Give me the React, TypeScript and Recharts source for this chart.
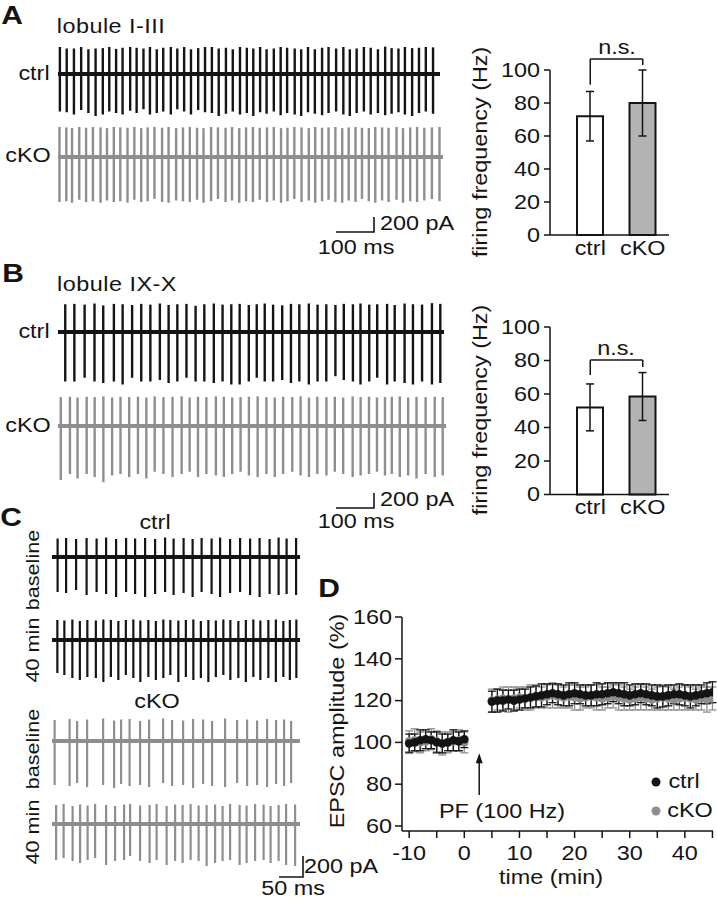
import React from 'react';
import { ComposedChart, BarChart, Bar, ScatterChart, Scatter, XAxis, YAxis, ReferenceLine, ReferenceDot, ErrorBar, Cell } from 'recharts';

const FONT = '"Liberation Sans", Arial, Helvetica, sans-serif';
const INK = '#141414';
const GREY = '#8e8e8e';
const SX = 1.2; // the figure's lettering is set wide
const FS = 19.5;

// ---- A: lobule I-III (spike times in ms, peaks in pA) ----
const aCtrlT = [5, 23, 42, 61, 80, 99, 118, 135, 153, 170, 190, 207, 225, 242, 260, 277, 297, 314, 332, 350, 369, 387, 405, 423, 442, 460, 479, 497, 514, 532, 549, 568, 586, 603, 623, 640, 658, 676, 695, 712, 732, 751, 768, 786, 805, 823, 842, 861, 878, 896, 913, 932, 950, 968, 987];
const aCtrlTop = [360, 340, 340, 360, 330, 340, 345, 360, 335, 350, 360, 350, 340, 360, 330, 350, 360, 340, 360, 330, 345, 360, 360, 340, 350, 330, 360, 350, 340, 360, 330, 340, 360, 350, 340, 330, 360, 330, 350, 360, 340, 360, 330, 340, 360, 350, 330, 365, 345, 340, 360, 345, 350, 360, 355];
const aCtrlBot = [-500, -510, -540, -480, -520, -560, -540, -500, -520, -540, -490, -520, -470, -540, -520, -500, -540, -470, -500, -540, -480, -510, -520, -560, -530, -500, -540, -520, -560, -510, -530, -500, -550, -520, -540, -560, -510, -530, -550, -520, -500, -540, -560, -520, -500, -540, -520, -550, -530, -510, -540, -560, -520, -500, -530];
const aCkoT = [3, 21, 36, 55, 73, 91, 111, 128, 146, 163, 182, 200, 218, 235, 253, 273, 290, 310, 328, 346, 365, 382, 402, 420, 440, 457, 476, 494, 512, 530, 549, 567, 586, 603, 621, 640, 659, 676, 694, 711, 729, 747, 764, 782, 799, 817, 834, 852, 869, 890, 907, 926, 944, 963, 983, 1003];
const aCkoTop = [400, 395, 385, 400, 390, 400, 395, 385, 400, 395, 390, 400, 385, 395, 400, 390, 400, 385, 395, 400, 390, 385, 400, 395, 390, 400, 385, 395, 400, 390, 395, 400, 385, 390, 400, 395, 385, 400, 390, 395, 400, 385, 395, 400, 390, 385, 400, 395, 390, 400, 385, 395, 400, 390, 395, 400];
const aCkoBot = [-600, -590, -610, -570, -600, -590, -610, -580, -600, -590, -610, -570, -600, -590, -560, -600, -610, -580, -590, -600, -570, -610, -590, -560, -600, -580, -610, -590, -600, -570, -600, -580, -610, -590, -560, -600, -580, -610, -590, -570, -600, -610, -580, -600, -560, -590, -610, -580, -600, -570, -610, -590, -600, -580, -560, -590];

// ---- B: lobule IX-X ----
const bCtrlT = [18, 42, 69, 95, 118, 146, 169, 194, 218, 242, 267, 290, 313, 337, 361, 384, 409, 432, 455, 477, 501, 522, 543, 565, 589, 612, 634, 659, 682, 705, 729, 751, 775, 795, 818, 839, 865, 885, 911, 933, 957, 983, 1005];
const bCtrlTop = [370, 375, 365, 380, 355, 375, 370, 360, 375, 365, 380, 360, 370, 375, 350, 370, 380, 365, 370, 375, 360, 370, 380, 365, 355, 375, 370, 380, 365, 370, 360, 375, 370, 380, 365, 370, 375, 360, 380, 370, 365, 385, 375];
const bCtrlBot = [-660, -660, -610, -660, -680, -660, -700, -610, -660, -660, -640, -680, -660, -610, -660, -660, -680, -660, -700, -700, -660, -610, -660, -660, -640, -680, -660, -700, -660, -660, -590, -640, -660, -700, -660, -610, -700, -660, -680, -700, -660, -700, -680];
const bCkoT = [8, 32, 52, 76, 97, 120, 143, 165, 188, 211, 233, 255, 278, 302, 326, 347, 369, 391, 416, 437, 459, 481, 503, 526, 549, 571, 593, 617, 639, 661, 683, 707, 729, 751, 776, 797, 819, 840, 861, 879, 900, 922, 944, 968, 992, 1013];
const bCkoTop = [385, 390, 380, 390, 385, 395, 380, 390, 385, 390, 380, 395, 385, 390, 395, 380, 390, 385, 395, 390, 380, 385, 390, 395, 385, 380, 390, 385, 395, 380, 390, 385, 390, 380, 395, 385, 390, 380, 385, 390, 395, 380, 390, 385, 390, 385];
const bCkoBot = [-720, -640, -700, -640, -680, -750, -660, -640, -680, -640, -700, -610, -640, -680, -640, -610, -680, -640, -660, -680, -640, -610, -660, -680, -640, -680, -640, -610, -660, -680, -640, -660, -610, -640, -680, -660, -640, -610, -660, -640, -680, -660, -700, -640, -680, -660];

// ---- C: baseline vs 40 min ----
const c1T = [11, 28, 48, 69, 89, 108, 128, 148, 166, 186, 206, 226, 243, 263, 281, 299, 319, 336, 356, 376, 396, 415, 435, 453, 469, 488];
const c1Top = [185, 190, 180, 190, 185, 195, 180, 190, 185, 190, 180, 195, 185, 190, 180, 190, 185, 195, 180, 190, 185, 190, 180, 195, 185, 190];
const c1Bot = [-350, -360, -330, -380, -350, -370, -400, -350, -370, -400, -370, -350, -380, -360, -400, -350, -370, -400, -360, -350, -380, -400, -370, -380, -370, -380];
const c2T = [11, 25, 41, 56, 71, 88, 103, 118, 133, 148, 163, 177, 193, 208, 223, 237, 253, 268, 283, 298, 313, 328, 343, 357, 373, 388, 403, 417, 433, 448, 463, 476, 489];
const c2Top = [200, 195, 205, 190, 200, 195, 205, 200, 190, 200, 205, 195, 200, 190, 205, 200, 195, 200, 205, 190, 200, 195, 205, 200, 190, 200, 205, 195, 200, 205, 190, 200, 205];
const c2Bot = [-330, -350, -380, -400, -370, -380, -420, -370, -400, -350, -380, -420, -370, -400, -380, -350, -420, -370, -400, -380, -420, -370, -350, -400, -380, -420, -370, -400, -380, -420, -370, -400, -380];
const c3T = [6, 36, 51, 71, 103, 125, 139, 156, 177, 195, 223, 241, 263, 283, 303, 321, 347, 371, 391, 411, 431, 449, 465, 479];
const c3Top = [210, 220, 200, 215, 225, 205, 215, 220, 200, 215, 225, 210, 205, 220, 215, 200, 225, 210, 215, 205, 220, 210, 215, 200];
const c3Bot = [-440, -450, -420, -460, -440, -470, -430, -450, -440, -460, -420, -450, -440, -470, -430, -450, -460, -420, -450, -440, -460, -430, -450, -420];
const c4T = [8, 23, 41, 56, 71, 86, 108, 126, 144, 156, 176, 195, 209, 229, 246, 261, 277, 293, 309, 326, 341, 356, 375, 389, 406, 423, 437, 453, 468, 486];
const c4Top = [190, 200, 180, 195, 185, 200, 190, 180, 195, 200, 185, 190, 200, 180, 195, 190, 200, 185, 190, 195, 180, 200, 190, 185, 200, 195, 180, 190, 200, 195];
const c4Bot = [-360, -340, -370, -390, -360, -340, -410, -370, -360, -320, -370, -390, -360, -410, -370, -390, -360, -370, -420, -390, -370, -360, -410, -390, -370, -360, -390, -370, -410, -420];

// ---- firing frequency bars ----
const groups = ['ctrl', 'cKO'];
const freqA = [72, 80];
const semA = [15, 20];
const freqB = [52, 58.5];
const semB = [14, 14.3];
const freqTicks = [0, 20, 40, 60, 80, 100];

// ---- D: EPSC amplitude (%) vs time (min) ----
const dTime = [-10, -9, -8, -7, -6, -5, -4, -3, -2, -1, 0, 5, 6, 7, 8, 9, 10, 11, 12, 13, 14, 15, 16, 17, 18, 19, 20, 21, 22, 23, 24, 25, 26, 27, 28, 29, 30, 31, 32, 33, 34, 35, 36, 37, 38, 39, 40, 41, 42, 43, 44, 45];
const ctrlMean = [99.5, 100, 101, 101.5, 101, 100, 99.5, 100, 101, 100.5, 101.5, 119.5, 120, 120, 120.5, 120, 120.5, 121, 121.5, 122, 122.5, 123, 123.5, 123, 122.5, 123, 123.5, 123, 122.5, 122.5, 123, 123, 123.5, 124, 123.5, 123, 122.5, 123, 123.5, 123, 122.5, 122, 122, 122.5, 123, 123, 122.5, 122, 122.5, 123, 123.5, 124];
const ctrlSem = [4.5, 4, 5, 4.5, 4, 5, 4.5, 4, 5, 4.5, 4, 5, 5.5, 5, 4.5, 5, 5, 4.5, 5, 5, 5.5, 5, 4.5, 5, 5, 5.5, 5, 4.5, 5, 5, 5.5, 5, 5, 4.5, 5, 5.5, 5, 5, 4.5, 5, 5, 5.5, 5, 5, 4.5, 5, 5, 5.5, 5, 4.5, 5, 5];
const ckoMean = [100.5, 101, 100, 100.5, 101.5, 100.5, 99.5, 100, 100.5, 101, 100, 120, 120.5, 121, 120.5, 121, 121.5, 121, 121.5, 122, 121.5, 122, 122.5, 122, 121.5, 122, 121.5, 121, 121.5, 122, 121.5, 121, 121.5, 122, 121.5, 121, 120.5, 121, 121.5, 121, 120.5, 121, 121.5, 121, 120.5, 121, 121.5, 121, 120.5, 121, 120.5, 121];
const ckoSem = [5, 5.5, 5, 4.5, 5, 5, 5.5, 5, 4.5, 5, 5, 5.5, 5, 5.5, 6, 5.5, 5, 5.5, 6, 5.5, 5, 5.5, 6, 5.5, 5, 5.5, 6, 5.5, 5, 5.5, 6, 5.5, 5, 5.5, 6, 5.5, 5, 5.5, 6, 5.5, 5, 5.5, 6, 5.5, 5, 5.5, 6, 5.5, 5, 5.5, 6, 5.5];
const timeTicks = [-10, -5, 0, 5, 10, 15, 20, 25, 30, 35, 40, 45];
const ampTicks = [60, 80, 100, 120, 140, 160];

const T = ({ x, y, s = FS, bold = false, rot = false, ls = 0, children }: any) => (
  <div
    style={{
      position: 'absolute', left: x, top: y, fontFamily: FONT, fontSize: s, fontWeight: bold ? 700 : 400,
      lineHeight: 1, whiteSpace: 'nowrap', color: INK, letterSpacing: ls,
      transform: `translate(-50%, -50%)${rot ? ' rotate(-90deg)' : ''} scaleX(${SX})`,
    }}
  >
    {children}
  </div>
);

const svgText = (x: number, y: number, anchor: string, value: any) => (
  <text transform={`translate(${x},${y}) scale(${SX},1)`} textAnchor={anchor} dy="0.35em" fontSize={FS} fontFamily={FONT} fill={INK}>
    {value}
  </text>
);

// one current-clamp trace: spikes as range bars around a thick baseline
function Trace({ times, tops, bottoms, x0, x1, base, color, pxMs, pxPA, spikeW = 2.4 }: any) {
  const up = 40;
  const down = 62;
  const w = x1 - x0;
  const data = times.map((t: number, i: number) => ({ t, r: [bottoms[i], tops[i]] }));
  return (
    <div style={{ position: 'absolute', left: x0, top: base - up }}>
      <ComposedChart width={w} height={up + down} data={data} margin={{ top: 0, right: 0, bottom: 0, left: 0 }}>
        <XAxis type="number" dataKey="t" domain={[0, w / pxMs]} hide />
        <YAxis type="number" domain={[-down / pxPA, up / pxPA]} hide />
        <ReferenceLine y={0} stroke={color} strokeWidth={4} />
        <Bar dataKey="r" fill={color} barSize={spikeW} isAnimationActive={false} />
      </ComposedChart>
    </div>
  );
}

function FreqChart({ top, vals, errs, plotTop, plotH, br }: any) {
  const data = groups.map((g, i) => ({ g, v: vals[i], e: errs[i] }));
  const fills = ['#ffffff', '#b3b3b3'];
  const seg = (a: any, b: any, k: string) => (
    <ReferenceLine key={k} segment={[a, b]} stroke={INK} strokeWidth={1.5} ifOverflow="visible" />
  );
  return (
    <div style={{ position: 'absolute', left: 440, top }}>
      <BarChart width={277} height={260} data={data} margin={{ top: plotTop, right: 48, bottom: 0, left: 0 }}>
        <XAxis
          dataKey="g"
          interval={0}
          tickLine={false}
          axisLine={{ stroke: INK, strokeWidth: 1.5 }}
          padding={{ left: 14, right: 0 }}
          height={260 - plotTop - plotH}
          tick={(p: any) => svgText(p.x, p.y + 5, 'middle', p.payload.value)}
        />
        <YAxis
          domain={[0, 100]}
          ticks={freqTicks}
          width={110}
          tickSize={6}
          axisLine={{ stroke: INK, strokeWidth: 1.5 }}
          tickLine={{ stroke: INK, strokeWidth: 1.5 }}
          tick={(p: any) => svgText(p.x - 2, p.y, 'end', p.payload.value)}
        />
        <Bar dataKey="v" barSize={26} stroke={INK} strokeWidth={2} isAnimationActive={false}>
          {data.map((d, i) => (
            <Cell key={d.g} fill={fills[i]} />
          ))}
          <ErrorBar dataKey="e" width={4} stroke={INK} strokeWidth={1.5} direction="y" />
        </Bar>
        {seg({ x: 'ctrl', y: br[1] }, { x: 'ctrl', y: br[0] }, 'l')}
        {seg({ x: 'ctrl', y: br[0] }, { x: 'cKO', y: br[0] }, 'h')}
        {seg({ x: 'cKO', y: br[2] }, { x: 'cKO', y: br[0] }, 'r')}
      </BarChart>
    </div>
  );
}

const dot = (fill: string) => (p: any) => <circle cx={p.cx} cy={p.cy} r={4.3} fill={fill} />;
const arrowHead = (p: any) => (
  <path d={`M${p.cx},${p.cy} L${p.cx - 3.5},${p.cy + 10} L${p.cx + 3.5},${p.cy + 10} Z`} fill={INK} />
);

function EpscChart() {
  const ctrl = dTime.map((t, i) => ({ t, v: ctrlMean[i], e: ctrlSem[i] }));
  const cko = dTime.map((t, i) => ({ t, v: ckoMean[i], e: ckoSem[i] }));
  return (
    <div style={{ position: 'absolute', left: 330, top: 590 }}>
      <ScatterChart width={387} height={309} margin={{ top: 27, right: 4, bottom: 0, left: 0 }}>
        <XAxis
          type="number"
          dataKey="t"
          domain={[-11.3, 45.1]}
          ticks={timeTicks}
          allowDataOverflow
          tickSize={7}
          height={68}
          axisLine={{ stroke: INK, strokeWidth: 1.5 }}
          tickLine={{ stroke: INK, strokeWidth: 1.5 }}
          tick={(p: any) => (p.payload.value % 10 === 0 ? svgText(p.x, p.y + 13, 'middle', p.payload.value) : <g />)}
        />
        <YAxis
          type="number"
          dataKey="v"
          domain={[57.6, 160]}
          ticks={ampTicks}
          allowDataOverflow
          width={72}
          tickSize={7}
          axisLine={{ stroke: INK, strokeWidth: 1.5 }}
          tickLine={{ stroke: INK, strokeWidth: 1.5 }}
          tick={(p: any) => svgText(p.x - 1, p.y, 'end', p.payload.value)}
        />
        <Scatter data={cko} fill={GREY} shape={dot(GREY)} isAnimationActive={false}>
          <ErrorBar dataKey="e" direction="y" width={4} stroke={GREY} strokeWidth={1.3} />
        </Scatter>
        <Scatter data={ctrl} fill={INK} shape={dot(INK)} isAnimationActive={false}>
          <ErrorBar dataKey="e" direction="y" width={4} stroke={INK} strokeWidth={1.3} />
        </Scatter>
        <ReferenceLine segment={[{ x: 2.7, y: 74.8 }, { x: 2.7, y: 91 }]} stroke={INK} strokeWidth={1.5} />
        <ReferenceDot x={2.7} y={94.8} r={0} shape={arrowHead} ifOverflow="visible" />
      </ScatterChart>
    </div>
  );
}

export default function App() {
  return (
    <div style={{ position: 'absolute', left: 0, top: 0, width: 717, height: 899, background: '#fff', overflow: 'hidden' }}>
      {/* A */}
      <Trace times={aCtrlT} tops={aCtrlTop} bottoms={aCtrlBot} x0={58} x1={440} base={74} color={INK} pxMs={0.38} pxPA={0.075} />
      <Trace times={aCkoT} tops={aCkoTop} bottoms={aCkoBot} x0={58} x1={443} base={157} color={GREY} pxMs={0.38} pxPA={0.075} />
      {/* B */}
      <Trace times={bCtrlT} tops={bCtrlTop} bottoms={bCtrlBot} x0={58} x1={444} base={332} color={INK} pxMs={0.38} pxPA={0.075} />
      <Trace times={bCkoT} tops={bCkoTop} bottoms={bCkoBot} x0={58} x1={446} base={426} color={GREY} pxMs={0.38} pxPA={0.075} />
      {/* C */}
      <Trace times={c1T} tops={c1Top} bottoms={c1Bot} x0={52} x1={300} base={557} color={INK} pxMs={0.5} pxPA={0.1} spikeW={2.2} />
      <Trace times={c2T} tops={c2Top} bottoms={c2Bot} x0={52} x1={300} base={640} color={INK} pxMs={0.5} pxPA={0.1} spikeW={2.2} />
      <Trace times={c3T} tops={c3Top} bottoms={c3Bot} x0={52} x1={300} base={741} color={GREY} pxMs={0.5} pxPA={0.1} spikeW={2.2} />
      <Trace times={c4T} tops={c4Top} bottoms={c4Bot} x0={52} x1={300} base={824} color={GREY} pxMs={0.5} pxPA={0.1} spikeW={2.2} />

      <FreqChart top={0} vals={freqA} errs={semA} plotTop={70} plotH={165} br={[106.7, 91, 103]} />
      <FreqChart top={260} vals={freqB} errs={semB} plotTop={67} plotH={167.5} br={[80.3, 71.3, 76.1]} />
      <EpscChart />

      <svg width={717} height={899} style={{ position: 'absolute', left: 0, top: 0, pointerEvents: 'none' }}>
        <polyline points="336,232 374,232 374,217" fill="none" stroke={INK} strokeWidth={1.6} />
        <polyline points="336,508 374,508 374,493" fill="none" stroke={INK} strokeWidth={1.6} />
        <polyline points="279,877 303,877 303,856" fill="none" stroke={INK} strokeWidth={1.6} />
        <circle cx={656} cy={782} r={4.5} fill={INK} />
        <circle cx={656} cy={811} r={4.5} fill={GREY} />
      </svg>

      <T x={12} y={15} s={25} bold>A</T>
      <T x={111} y={27} ls={0.4}>lobule I-III</T>
      <T x={34} y={74}>ctrl</T>
      <T x={28} y={156}>cKO</T>
      <T x={417} y={224}>200 pA</T>
      <T x={356} y={248}>100 ms</T>
      <T x={481} y={152} rot>firing frequency (Hz)</T>
      <T x={617} y={48}>n.s.</T>

      <T x={13} y={273} s={25} bold>B</T>
      <T x={117} y={285} ls={0.4}>lobule IX-X</T>
      <T x={34} y={332}>ctrl</T>
      <T x={28} y={426}>cKO</T>
      <T x={417} y={500}>200 pA</T>
      <T x={356} y={522}>100 ms</T>
      <T x={481} y={410} rot>firing frequency (Hz)</T>
      <T x={616} y={349}>n.s.</T>

      <T x={11} y={517} s={25} bold>C</T>
      <T x={155} y={523}>ctrl</T>
      <T x={157} y={702}>cKO</T>
      <T x={33} y={570} s={18} rot>baseline</T>
      <T x={33} y={650} s={18} rot>40 min</T>
      <T x={33} y={749} s={18} rot>baseline</T>
      <T x={33} y={832} s={18} rot>40 min</T>
      <T x={341} y={867}>200 pA</T>
      <T x={293} y={889}>50 ms</T>

      <T x={329} y={588} s={25} bold>D</T>
      <T x={338} y={721} rot>EPSC amplitude (%)</T>
      <T x={502} y={812}>PF (100 Hz)</T>
      <T x={551} y={878}>time (min)</T>
      <T x={684} y={782}>ctrl</T>
      <T x={690} y={811}>cKO</T>
    </div>
  );
}
